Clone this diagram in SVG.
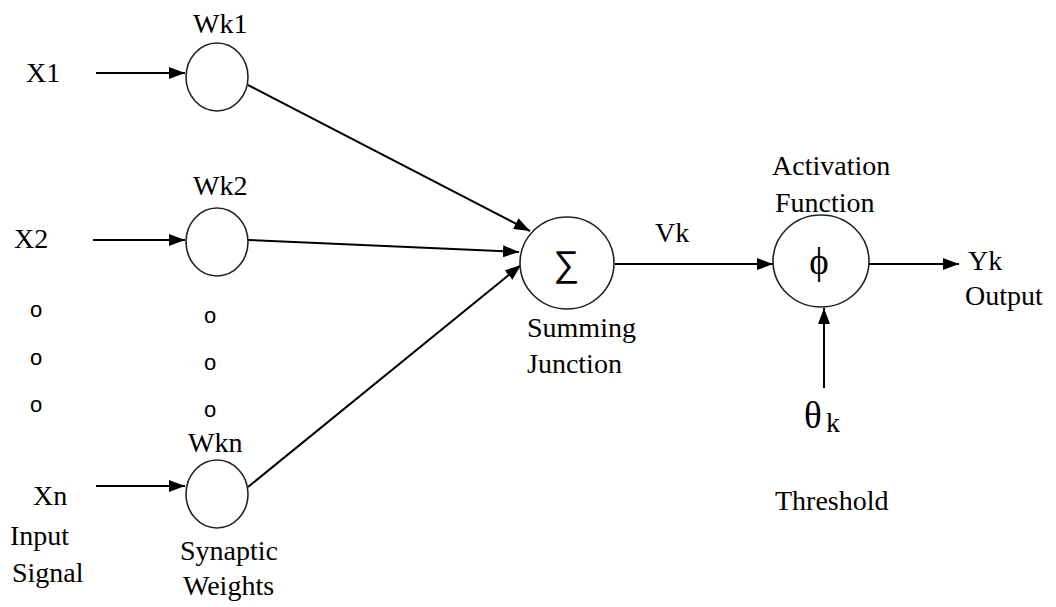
<svg xmlns="http://www.w3.org/2000/svg" width="1056" height="607" viewBox="0 0 1056 607">
<style>
.node{fill:#fff;stroke:#222;stroke-width:1.6}
.conn line{stroke:#000;stroke-width:2}
.t{font-family:"Liberation Serif","Times New Roman",serif;font-size:28px;fill:#000}
.d{font-family:"Liberation Sans",Arial,sans-serif;font-size:22px;fill:#000}
.sig{font-family:"Liberation Sans",Arial,sans-serif;font-size:36px;fill:#000}
.sym{font-family:"Liberation Serif","Times New Roman",serif;font-size:37px;fill:#000}
</style>
<defs>
<marker id="ah" viewBox="0 0 16 12" refX="16" refY="6" markerWidth="16" markerHeight="12" markerUnits="userSpaceOnUse" orient="auto">
<path d="M0,0 L16,6 L0,12 z" fill="#000"/>
</marker>
</defs>
<rect width="1056" height="607" fill="#fff"/>
<g id="connectors" class="conn">
<line x1="96" y1="73" x2="185" y2="73" marker-end="url(#ah)"/>
<line x1="93" y1="240" x2="185" y2="240" marker-end="url(#ah)"/>
<line x1="96" y1="486" x2="185" y2="486" marker-end="url(#ah)"/>
<line x1="248" y1="85" x2="530" y2="231" marker-end="url(#ah)"/>
<line x1="248" y1="240" x2="519" y2="252" marker-end="url(#ah)"/>
<line x1="248" y1="487" x2="521" y2="265" marker-end="url(#ah)"/>
<line x1="615" y1="264" x2="773" y2="264" marker-end="url(#ah)"/>
<line x1="869" y1="264" x2="959" y2="264" marker-end="url(#ah)"/>
<line x1="824" y1="388" x2="824" y2="308" marker-end="url(#ah)"/>
</g>
<g id="inputs">
<text class="t" x="26" y="82">X1</text>
<text class="t" x="14" y="248">X2</text>
<text class="d" x="30" y="317">o</text>
<text class="d" x="30" y="365">o</text>
<text class="d" x="30" y="412">o</text>
<text class="t" x="33" y="505">Xn</text>
<text class="t" x="10" y="545">Input</text>
<text class="t" x="12" y="582">Signal</text>
</g>
<g id="w1"><ellipse class="node" cx="217" cy="77" rx="31" ry="34"/>
<text class="t" x="193" y="33">Wk1</text></g>
<g id="w2"><ellipse class="node" cx="217" cy="242" rx="31" ry="34"/>
<text class="t" x="193" y="195">Wk2</text></g>
<g id="wdots">
<text class="d" x="204" y="323">o</text>
<text class="d" x="204" y="370">o</text>
<text class="d" x="204" y="417">o</text>
</g>
<g id="wn"><ellipse class="node" cx="217" cy="494" rx="31" ry="34"/>
<text class="t" x="188" y="452">Wkn</text>
<text class="t" x="180" y="560">Synaptic</text>
<text class="t" x="183" y="595">Weights</text></g>
<g id="sum"><ellipse class="node" cx="567" cy="263" rx="47" ry="46"/>
<text class="sig" x="566" y="276" text-anchor="middle">∑</text>
<text class="t" x="527" y="337">Summing</text>
<text class="t" x="527" y="373">Junction</text></g>
<text class="t" x="655" y="242">Vk</text>
<g id="act"><ellipse class="node" cx="821" cy="261" rx="48" ry="46"/>
<text class="sym" x="819" y="274" text-anchor="middle">ϕ</text>
<text class="t" x="772" y="175">Activation</text>
<text class="t" x="775" y="212">Function</text></g>
<g id="out">
<text class="t" x="968" y="270">Yk</text>
<text class="t" x="965" y="305">Output</text></g>
<g id="thr">
<text class="sym" x="804" y="428">θ</text>
<text class="t" x="826" y="432">k</text>
<text class="t" x="775" y="510">Threshold</text></g>
</svg>
